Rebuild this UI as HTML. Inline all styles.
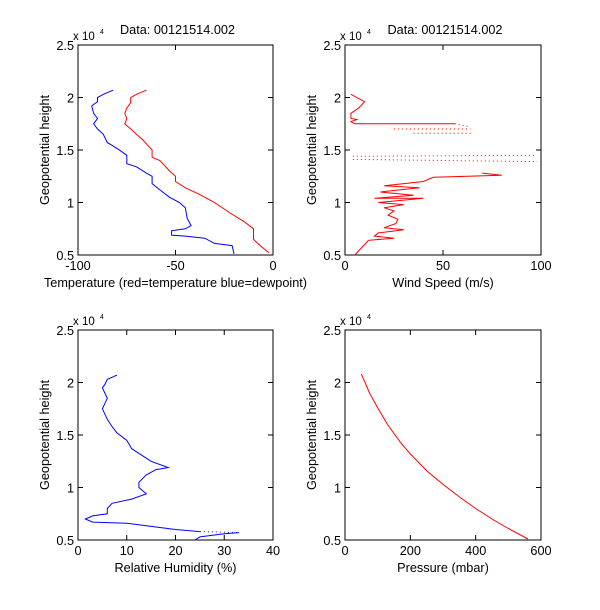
<!DOCTYPE html>
<html><head><meta charset="utf-8"><style>
body{margin:0;background:#fff;}
svg{display:block;font-family:"Liberation Sans",sans-serif;font-size:12.7px;}
</style></head><body>
<svg id="s" width="600" height="610" xmlns="http://www.w3.org/2000/svg"></svg>
<script>
const s=document.getElementById('s');let h='';
function ax(x0,x1,y0,y1,xmin,xmax,xt,xlab,title){
  const W=x1-x0,H=y1-y0;
  h+=`<rect x="${x0}" y="${y0}" width="${W}" height="${H}" fill="none" stroke="#000" stroke-width="1"/>`;
  xt.forEach(v=>{const x=x0+(v-xmin)/(xmax-xmin)*W;
    h+=`<line x1="${x}" y1="${y1}" x2="${x}" y2="${y1-5}" stroke="#000"/><line x1="${x}" y1="${y0}" x2="${x}" y2="${y0+5}" stroke="#000"/>`;
    h+=`<text x="${x}" y="${y1+15}" text-anchor="middle">${v}</text>`;});
  [0.5,1,1.5,2,2.5].forEach(v=>{const y=y1-(v-0.5)/2*H;
    h+=`<line x1="${x0}" y1="${y}" x2="${x0+5}" y2="${y}" stroke="#000"/><line x1="${x1}" y1="${y}" x2="${x1-5}" y2="${y}" stroke="#000"/>`;
    h+=`<text x="${x0-4}" y="${y+5}" text-anchor="end">${v}</text>`;});
  h+=`<text x="${x0-5}" y="${y0-5}" font-size="11.5">x 10</text><text x="${x0+22}" y="${y0-11}" font-size="7">4</text>`;
  h+=`<text x="${(x0+x1)/2}" y="${y1+32}" text-anchor="middle">${xlab}</text>`;
  h+=`<text transform="translate(${x0-29},${(y0+y1)/2}) rotate(-90)" text-anchor="middle">Geopotential height</text>`;
  if(title)h+=`<text x="${(x0+x1)/2+2}" y="${y0-11}" text-anchor="middle">${title}</text>`;
  return (pts,col,dash)=>{const p=pts.map(([a,b])=>`${(x0+(a-xmin)/(xmax-xmin)*W).toFixed(1)},${(y1-(b-5000)/20000*H).toFixed(1)}`).join(' ');
    h+=`<polyline points="${p}" fill="none" stroke="${col}" stroke-width="1" ${dash?'stroke-dasharray="1,3"':''}/>`;};
}
let p=ax(78,273,45,255,-100,0,[-100,-50,0],"Temperature (red=temperature blue=dewpoint)","Data: 00121514.002");
p([[-65,20700],[-70,20300],[-73,20000],[-73,19500],[-75,19000],[-76,18500],[-75,18000],[-76,17500],[-73,17000],[-70,16500],[-67,16000],[-64,15400],[-62,15000],[-62,14300],[-58,14000],[-53,13000],[-50,12500],[-50,12000],[-45,11400],[-38,10800],[-30,10000],[-22,9000],[-15,8200],[-10,7500],[-10,6500],[-6,5800],[-2,5200]],"#f00");
p([[-82,20700],[-87,20300],[-90,20000],[-90,19600],[-93,19200],[-92,18500],[-90,18000],[-92,17500],[-90,17000],[-87,16500],[-85,15700],[-83,15500],[-78,14900],[-75,14500],[-75,13700],[-70,13400],[-65,12800],[-62,12500],[-62,11800],[-58,11200],[-53,10500],[-48,10000],[-45,9500],[-44,8500],[-42,7800],[-45,7500],[-52,7300],[-52,6900],[-45,6800],[-35,6600],[-30,6100],[-21,5900],[-20,5100]],"#00f");
p=ax(345,541,45,255,0,100,[0,50,100],"Wind Speed (m/s)","Data: 00121514.002");
p([[3,20300],[10,19600],[7,19000],[3,18500],[3,18000],[6,17900],[3,17700],[5,17500],[15,17500],[56,17500]],"#f00");
p([[56,17500],[64,17200]],"#f00",1);p([[25,17000],[64,17000]],"#f00",1);p([[35,16600],[65,16600]],"#f00",1);
p([[4,14400],[97,14500]],"#f00",1);p([[4,14100],[98,13900]],"#f00",1);
p([[70,12800],[80,12600],[45,12400],[40,12000],[20,11600],[38,11400],[18,11000],[35,10700],[15,10400],[40,10400],[17,10000],[30,9800],[20,9500],[25,9200],[22,8800],[27,8400],[26,8000],[20,7600],[30,7400],[17,7100],[15,6800],[25,6600],[12,6400],[10,6000],[5,5000]],"#f00");
p=ax(78,273,330,540,0,40,[0,10,20,30,40],"Relative Humidity (%)");
p([[8,20700],[6,20300],[5.5,19800],[5,19500],[5.5,19000],[6,18500],[5,17500],[6,16500],[7,15800],[8,15200],[10,14500],[11,13700],[12,13400],[15,12500],[18.5,11900],[16,11700],[14,11200],[12.5,10500],[12.5,10000],[14,9400],[11,8900],[7,8500],[6,8000],[6,7500],[3,7300],[1.5,7000],[3,6700],[10,6600],[15,6300],[20,6000],[25,5800]],"#00f");
p([[25,5800],[33,5700]],"#00f",1);p([[33,5700],[30,5600],[25,5300],[24,5000]],"#00f");
p=ax(345,541,330,540,0,600,[0,200,400,600],"Pressure (mbar)");
p([[50,20800],[60,20100],[75,19000],[100,17600],[130,16000],[170,14300],[200,13200],[250,11600],[300,10300],[350,9100],[400,8000],[450,7000],[500,6100],[560,5100]],"#f00");
s.innerHTML=h;
</script>
</body></html>
